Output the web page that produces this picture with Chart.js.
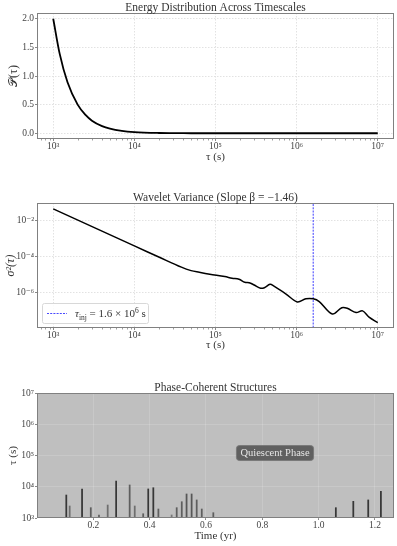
<!DOCTYPE html>
<html>
<head>
<meta charset="utf-8">
<script src="https://cdn.jsdelivr.net/npm/chart.js@4.4.0/dist/chart.umd.min.js"></script>
<style>
body { margin: 0; background: #fff; width: 397px; height: 546px; overflow: hidden; position: relative; }
.panel { position: absolute; left: 0; width: 397px; }
</style>
</head>
<body>
<div class="panel" style="top:0;height:170px"><canvas id="energyChart"></canvas></div>
<div class="panel" style="top:180px;height:175px"><canvas id="varianceChart"></canvas></div>
<div class="panel" style="top:365px;height:181px"><canvas id="phaseChart"></canvas></div>
<script>
// Energy distribution
const energyTau = [1e3, 1.2e3, 1.5e3, 2e3, 2.5e3, 3e3, 4e3, 5e3, 7e3, 1e4, 2e4, 5e4, 1e5, 1e6, 1e7];
const energyP = [2.0, 1.39, 0.89, 0.50, 0.32, 0.22, 0.125, 0.08, 0.041, 0.02, 0.005, 0.0008, 0.0002, 0, 0];
const energyYTicks = [0, 0.5, 1.0, 1.5, 2.0];
const tauTicks = [1e3, 1e4, 1e5, 1e6, 1e7];

// Wavelet variance
const varTau = [1e3, 3.16e3, 1e4, 2e4, 3.8e4, 5e4, 6.3e4, 8.5e4, 1.3e5, 1.6e5, 1.95e5, 2.3e5, 2.6e5, 3.0e5, 3.6e5,
  4.0e5, 4.7e5, 5.2e5, 7.4e5, 1.02e6, 1.3e6, 1.6e6, 1.9e6, 2.75e6, 3.6e6, 4.2e6, 5.4e6, 6.5e6, 7.8e6, 1e7];
const varSigma = [4.7e-2, 4.4e-3, 4.1e-4, 1.0e-4, 2.7e-5, 1.74e-5, 1.41e-5, 1.10e-5, 8.1e-6, 6.6e-6, 5.75e-6, 3.9e-6, 3.7e-6, 2.75e-6, 1.82e-6,
  1.95e-6, 3.0e-6, 2.45e-6, 8.7e-7, 3.16e-7, 4.7e-7, 4.7e-7, 3.3e-7, 6.8e-8, 1.51e-7, 1.41e-7, 8.1e-8, 1.0e-7, 4.5e-8, 2.24e-8];
const varYTicks = [1e-2, 1e-4, 1e-6];
const tauInj = 1.6e6;

// Phase-coherent structures
const eventTime = [0.104, 0.116, 0.160, 0.191, 0.220, 0.251, 0.281, 0.329, 0.347, 0.377, 0.395, 0.413, 0.431,
  0.478, 0.496, 0.514, 0.531, 0.549, 0.567, 0.585, 0.626, 1.061, 1.123, 1.176, 1.221];
const eventTau = [5440, 2420, 8500, 2140, 1250, 2600, 15200, 11400, 2420, 1370, 8500, 9300, 1940,
  1250, 2140, 3320, 5870, 5870, 3780, 1940, 1480, 2140, 3410, 3780, 7120];
const eventCoherence = [0.85, 0.5, 0.85, 0.6, 0.6, 0.5, 0.85, 0.6, 0.5, 0.6, 0.85, 0.85, 0.6,
  0.45, 0.6, 0.6, 0.65, 0.65, 0.6, 0.6, 0.6, 0.85, 0.85, 0.85, 0.85];
const phaseXTicks = [0.2, 0.4, 0.6, 0.8, 1.0, 1.2];
const phaseYTicks = [1e3, 1e4, 1e5, 1e6, 1e7];

const SERIF = "'Liberation Serif', 'DejaVu Serif', serif";
Chart.defaults.font.family = SERIF;
Chart.defaults.color = '#444';
Chart.defaults.animation = false;

const supMap = { '0': '⁰', '1': '¹', '2': '²', '3': '³', '4': '⁴', '5': '⁵', '6': '⁶', '7': '⁷', '8': '⁸', '9': '⁹', '-': '⁻' };
function powLabel(v) {
  const e = String(Math.round(Math.log10(v)));
  return '10' + e.split('').map(c => supMap[c]).join('');
}

// frame, title and minor ticks
const framePlugin = {
  id: 'frame',
  beforeDraw(chart, args, opts) {
    if (!opts.fill) return;
    const { ctx, chartArea: a } = chart;
    ctx.save();
    ctx.fillStyle = opts.fill;
    ctx.fillRect(a.left, a.top, a.width, a.height);
    ctx.restore();
  },
  afterDraw(chart, args, opts) {
    const { ctx, chartArea: a } = chart;
    ctx.save();
    if (opts.minorX) {
      const xs = chart.scales.x;
      ctx.strokeStyle = '#888';
      ctx.lineWidth = 0.8;
      for (let k = 2; k <= 7; k++) {
        for (let m = 2; m <= 9; m++) {
          const v = m * Math.pow(10, k);
          if (v < xs.min || v > xs.max) continue;
          const px = Math.round(xs.getPixelForValue(v)) + 0.5;
          ctx.beginPath();
          ctx.moveTo(px, a.bottom);
          ctx.lineTo(px, a.bottom + 1.5);
          ctx.stroke();
        }
      }
    }
    ctx.strokeStyle = '#808080';
    ctx.lineWidth = 1;
    ctx.strokeRect(Math.round(a.left) + 0.5, Math.round(a.top) + 0.5, Math.round(a.width) - 1, Math.round(a.height) - 1);
    ctx.fillStyle = '#333';
    ctx.font = '11.5px ' + SERIF;
    ctx.textAlign = 'center';
    ctx.textBaseline = 'alphabetic';
    ctx.fillText(opts.title, (a.left + a.right) / 2, a.top - 2);
    ctx.restore();
  }
};

function logX() {
  return {
    type: 'logarithmic',
    min: Math.pow(10, 2.8),
    max: Math.pow(10, 7.2),
    afterBuildTicks: s => { s.ticks = tauTicks.map(v => ({ value: v })); },
    ticks: { callback: v => powLabel(v), font: { size: 9.5 }, padding: 0, maxRotation: 0, autoSkip: false },
    grid: { color: '#e2e2e2', tickColor: '#888', tickLength: 2 },
    border: { display: false, dash: [1.5, 1.5] },
    title: { display: true, text: 'τ (s)', font: { size: 11 }, color: '#333', padding: { top: 0, bottom: 0 } },
  };
}

// Energy chart
new Chart(document.getElementById('energyChart'), {
  type: 'line',
  data: {
    datasets: [{
      data: energyTau.map((t, i) => ({ x: t, y: energyP[i] })),
      borderColor: '#000',
      borderWidth: 1.8,
      pointRadius: 0,
      cubicInterpolationMode: 'monotone',
    }]
  },
  options: {
    responsive: true,
    maintainAspectRatio: false,
    layout: { padding: { top: 13, right: 3, left: 0, bottom: 0 } },
    plugins: {
      legend: { display: false },
      tooltip: { enabled: false },
      frame: { title: 'Energy Distribution Across Timescales', minorX: true },
    },
    scales: {
      x: Object.assign(logX(), {
        afterFit: s => { s.height = 31; },
        title: { display: true, text: 'τ (s)', font: { size: 11 }, color: '#333', padding: { top: 0, bottom: 6 } },
      }),
      y: {
        min: -0.1,
        max: 2.1,
        afterBuildTicks: s => { s.ticks = energyYTicks.map(v => ({ value: v })); },
        afterFit: s => { s.width = 37; },
        ticks: { callback: v => v.toFixed(1), font: { size: 9.5 }, padding: 1 },
        grid: { color: '#e2e2e2', tickColor: '#888', tickLength: 2 },
        border: { display: false, dash: [1.5, 1.5] },
        title: { display: true, text: '𝒫(τ)', font: { size: 12 }, color: '#333', padding: { top: 7, bottom: 0 } },
      }
    }
  },
  plugins: [framePlugin]
});

// Legend for the variance chart
const injLegend = {
  id: 'injLegend',
  afterDraw(chart) {
    const { ctx, chartArea: a } = chart;
    const x0 = a.left + 5, y0 = a.bottom - 25;
    ctx.save();
    ctx.fillStyle = 'rgba(255,255,255,0.85)';
    ctx.strokeStyle = '#d8d8d8';
    ctx.lineWidth = 1;
    ctx.beginPath();
    ctx.roundRect(x0 + 0.5, y0 + 0.5, 106, 20, 2);
    ctx.fill();
    ctx.stroke();
    ctx.strokeStyle = '#4848ff';
    ctx.lineWidth = 1.1;
    ctx.setLineDash([2, 1.2]);
    ctx.beginPath();
    ctx.moveTo(x0 + 5, y0 + 10.5);
    ctx.lineTo(x0 + 25, y0 + 10.5);
    ctx.stroke();
    ctx.setLineDash([]);
    ctx.fillStyle = '#333';
    ctx.textBaseline = 'alphabetic';
    let x = x0 + 33;
    const base = y0 + 14;
    ctx.font = 'italic 11px ' + SERIF;
    ctx.fillText('τ', x, base);
    x += ctx.measureText('τ').width;
    ctx.font = '7.5px ' + SERIF;
    ctx.fillText('inj', x, base + 2.5);
    x += ctx.measureText('inj').width;
    ctx.font = '11px ' + SERIF;
    ctx.fillText(' = 1.6 × 10', x, base);
    x += ctx.measureText(' = 1.6 × 10').width;
    ctx.font = '7.5px ' + SERIF;
    ctx.fillText('6', x, base - 4.5);
    x += ctx.measureText('6').width;
    ctx.font = '11px ' + SERIF;
    ctx.fillText(' s', x, base);
    ctx.restore();
  }
};

new Chart(document.getElementById('varianceChart'), {
  type: 'line',
  data: {
    datasets: [{
      data: varTau.map((t, i) => ({ x: t, y: varSigma[i] })),
      borderColor: '#000',
      borderWidth: 1.5,
      pointRadius: 0,
      tension: 0.35,
    }, {
      data: [{ x: tauInj, y: 1e-9 }, { x: tauInj, y: 1 }],
      borderColor: '#3b3bff',
      borderWidth: 1,
      borderDash: [2, 1.2],
      pointRadius: 0,
    }]
  },
  options: {
    responsive: true,
    maintainAspectRatio: false,
    layout: { padding: { top: 23, right: 3, left: 0, bottom: 0 } },
    plugins: {
      legend: { display: false },
      tooltip: { enabled: false },
      frame: { title: 'Wavelet Variance (Slope β = −1.46)', minorX: true },
    },
    scales: {
      x: Object.assign(logX(), {
        afterFit: s => { s.height = 27; },
        title: { display: true, text: 'τ (s)', font: { size: 11 }, color: '#333', padding: { top: 0, bottom: 3 } },
      }),
      y: {
        type: 'logarithmic',
        min: Math.pow(10, -7.95),
        max: Math.pow(10, -1.0),
        afterBuildTicks: s => { s.ticks = varYTicks.map(v => ({ value: v })); },
        afterFit: s => { s.width = 37; },
        ticks: { callback: v => powLabel(v), font: { size: 9.5 }, padding: 1 },
        grid: { color: '#e2e2e2', tickColor: '#888', tickLength: 2 },
        border: { display: false, dash: [1.5, 1.5] },
        title: { display: true, text: 'σ²(τ)', font: { size: 12, style: 'italic' }, color: '#333', padding: { top: 4, bottom: 0 } },
      }
    }
  },
  plugins: [framePlugin, injLegend]
});

// Annotation for the phase chart
const quiescentNote = { text: 'Quiescent Phase', x: 0.845, y: 1.2e5 };
const notePlugin = {
  id: 'note',
  afterDatasetsDraw(chart) {
    const { ctx, scales } = chart;
    const cx = scales.x.getPixelForValue(quiescentNote.x);
    const cy = scales.y.getPixelForValue(quiescentNote.y);
    ctx.save();
    ctx.font = '10.5px ' + SERIF;
    const w = ctx.measureText(quiescentNote.text).width + 8;
    ctx.fillStyle = 'rgba(85,85,85,0.9)';
    ctx.strokeStyle = 'rgba(120,120,120,0.9)';
    ctx.beginPath();
    ctx.roundRect(cx - w / 2, cy - 7.5, w, 15, 3);
    ctx.fill();
    ctx.stroke();
    ctx.fillStyle = '#e6e6e6';
    ctx.textAlign = 'center';
    ctx.textBaseline = 'middle';
    ctx.fillText(quiescentNote.text, cx, cy + 0.5);
    ctx.restore();
  }
};

new Chart(document.getElementById('phaseChart'), {
  type: 'bar',
  data: {
    datasets: [{
      data: eventTime.map((t, i) => ({ x: t, y: [1e3, eventTau[i]] })),
      backgroundColor: eventCoherence.map(c => `rgba(30,30,30,${c})`),
      barThickness: 1.1,
      borderSkipped: false,
    }]
  },
  options: {
    responsive: true,
    maintainAspectRatio: false,
    layout: { padding: { top: 28, right: 3, left: 0, bottom: 0 } },
    plugins: {
      legend: { display: false },
      tooltip: { enabled: false },
      frame: { title: 'Phase-Coherent Structures', fill: '#bfbfbf' },
    },
    scales: {
      x: {
        type: 'linear',
        min: 0,
        max: 1.2675,
        offset: false,
        afterBuildTicks: s => { s.ticks = phaseXTicks.map(v => ({ value: v })); },
        afterFit: s => { s.height = 28; },
        ticks: { callback: v => v.toFixed(1), font: { size: 9.5 }, padding: 0, maxRotation: 0, autoSkip: false },
        grid: { offset: false, color: 'rgba(255,255,255,0.15)', tickColor: '#888', tickLength: 2 },
        border: { display: false },
        title: { display: true, text: 'Time (yr)', font: { size: 11 }, color: '#333', padding: { top: 0, bottom: 3 } },
      },
      y: {
        type: 'logarithmic',
        min: 1e3,
        max: 1e7,
        afterBuildTicks: s => { s.ticks = phaseYTicks.map(v => ({ value: v })); },
        afterFit: s => { s.width = 37; },
        ticks: { callback: v => powLabel(v), font: { size: 9.5 }, padding: 1 },
        grid: { color: 'rgba(255,255,255,0.15)', tickColor: '#888', tickLength: 2 },
        border: { display: false },
        title: { display: true, text: 'τ (s)', font: { size: 11 }, color: '#333', padding: { top: 7, bottom: 0 } },
      }
    }
  },
  plugins: [framePlugin, notePlugin]
});
</script>
</body>
</html>
